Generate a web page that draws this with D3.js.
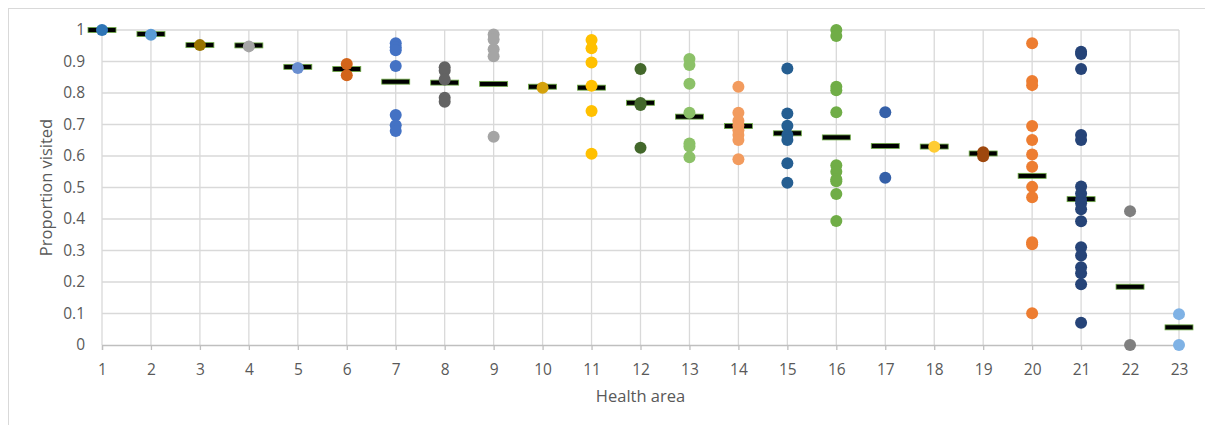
<!DOCTYPE html>
<html>
<head>
<meta charset="utf-8">
<script src="https://cdn.jsdelivr.net/npm/d3@7"></script>
<style>
  body { margin: 0; background: #fff; }
  svg { display: block; font-family: "Open Sans", "Noto Sans", sans-serif; }
</style>
</head>
<body>
<div id="chart"></div>
<script>
const areas = d3.range(1, 24);

// proportion visited for each facility, per health area
const visits = [
  [1.0],
  [0.985],
  [0.952],
  [0.948],
  [0.879],
  [0.892, 0.856],
  [0.958, 0.945, 0.936, 0.886, 0.730, 0.698, 0.679],
  [0.882, 0.871, 0.843, 0.785, 0.772],
  [0.986, 0.970, 0.939, 0.917, 0.661],
  [0.817],
  [0.968, 0.942, 0.897, 0.823, 0.743, 0.607],
  [0.876, 0.768, 0.762, 0.626],
  [0.908, 0.889, 0.829, 0.737, 0.640, 0.630, 0.596],
  [0.820, 0.737, 0.712, 0.697, 0.682, 0.667, 0.651, 0.590],
  [0.878, 0.735, 0.696, 0.667, 0.651, 0.577, 0.515],
  [1.0, 0.981, 0.820, 0.809, 0.739, 0.571, 0.550, 0.526, 0.520, 0.479, 0.394],
  [0.739, 0.531],
  [0.629],
  [0.612, 0.599],
  [0.958, 0.838, 0.825, 0.695, 0.651, 0.605, 0.566, 0.502, 0.469, 0.326, 0.320, 0.101],
  [0.931, 0.924, 0.876, 0.667, 0.651, 0.503, 0.481, 0.461, 0.450, 0.431, 0.393, 0.310, 0.284, 0.247, 0.228, 0.193, 0.071],
  [0.425, 0.0],
  [0.098, 0.0]
];

// mean marker per health area
const means = [1.0, 0.987, 0.952, 0.951, 0.883, 0.876, 0.836, 0.833, 0.829, 0.820, 0.817, 0.769,
  0.725, 0.695, 0.672, 0.659, 0.632, 0.630, 0.608, 0.537, 0.463, 0.185, 0.056];

const colors = ["#2E75B6", "#5B9BD5", "#997300", "#A5A5A5", "#698ED0", "#D2641A", "#4472C4", "#636363",
  "#A5A5A5", "#D4A20C", "#FFC000", "#43682B", "#8CC168", "#F29B5E", "#255E91", "#70AD47", "#3560A8",
  "#FFCC33", "#9E480E", "#ED7D31", "#264478", "#7F7F7F", "#7FB2E5"];

const yTicks = d3.range(0, 11).map(d => d / 10);

const width = 1205, height = 425;
const margin = {top: 30, right: 26, bottom: 80, left: 102};

const svg = d3.select("#chart").append("svg")
  .attr("width", width).attr("height", height);

svg.append("rect")
  .attr("x", 8.5).attr("y", 8.5)
  .attr("width", width).attr("height", height)
  .attr("fill", "none").attr("stroke", "#D9D9D9");

const x = d3.scaleLinear().domain([1, 23]).range([margin.left, width - margin.right]);
const y = d3.scaleLinear().domain([0, 1]).range([height - margin.bottom, margin.top]);

// grid
svg.append("g")
  .selectAll("line.h").data(yTicks.slice(1)).join("line")
  .attr("x1", x(1)).attr("x2", x(23))
  .attr("y1", d => y(d)).attr("y2", d => y(d))
  .attr("stroke", "#D9D9D9").attr("stroke-width", 1.3);

svg.append("g")
  .selectAll("line.v").data(areas).join("line")
  .attr("x1", d => x(d)).attr("x2", d => x(d))
  .attr("y1", y(1)).attr("y2", y(0))
  .attr("stroke", "#D9D9D9").attr("stroke-width", 1.3);

// x axis
const xAxis = svg.append("g")
  .attr("transform", `translate(0,${y(0)})`)
  .call(d3.axisBottom(x).tickValues(areas).tickFormat(d3.format("d")).tickSize(5).tickPadding(14));
xAxis.select(".domain").attr("stroke", "#BFBFBF").attr("stroke-width", 1.3);
xAxis.selectAll(".tick line").attr("stroke", "#BFBFBF").attr("stroke-width", 1.3);
xAxis.selectAll("text").attr("fill", "#595959").attr("font-size", 15.5).attr("font-family", "Open Sans");

// y axis
const yAxis = svg.append("g")
  .attr("transform", `translate(${margin.left},0)`)
  .call(d3.axisLeft(y).tickValues(yTicks).tickFormat(d => d === 0 || d === 1 ? d3.format("d")(d) : d3.format(".1f")(d)).tickSize(0).tickPadding(17));
yAxis.select(".domain").remove();
yAxis.selectAll("text").attr("fill", "#595959").attr("font-size", 15.5).attr("font-family", "Open Sans");

// titles
svg.append("text")
  .attr("x", (x(1) + x(23)) / 2).attr("y", 402)
  .attr("text-anchor", "middle")
  .attr("fill", "#595959").attr("font-size", 16.5)
  .text("Health area");

svg.append("text")
  .attr("transform", `translate(52,${(y(0) + y(1)) / 2}) rotate(-90)`)
  .attr("text-anchor", "middle")
  .attr("fill", "#595959").attr("font-size", 16.5)
  .text("Proportion visited");

// mean dashes
svg.append("g")
  .selectAll("rect").data(means).join("rect")
  .attr("x", (d, i) => x(areas[i]) - 14)
  .attr("y", d => y(d) - 2.5)
  .attr("width", 28).attr("height", 5)
  .attr("fill", "#000").attr("stroke", "#70AD47").attr("stroke-width", 0.8);

// points
const points = visits.flatMap((vals, i) => vals.map(v => ({area: areas[i], v, color: colors[i]})));
svg.append("g")
  .selectAll("circle").data(points).join("circle")
  .attr("cx", d => x(d.area))
  .attr("cy", d => y(d.v))
  .attr("r", 6)
  .attr("fill", d => d.color);
</script>
</body>
</html>
